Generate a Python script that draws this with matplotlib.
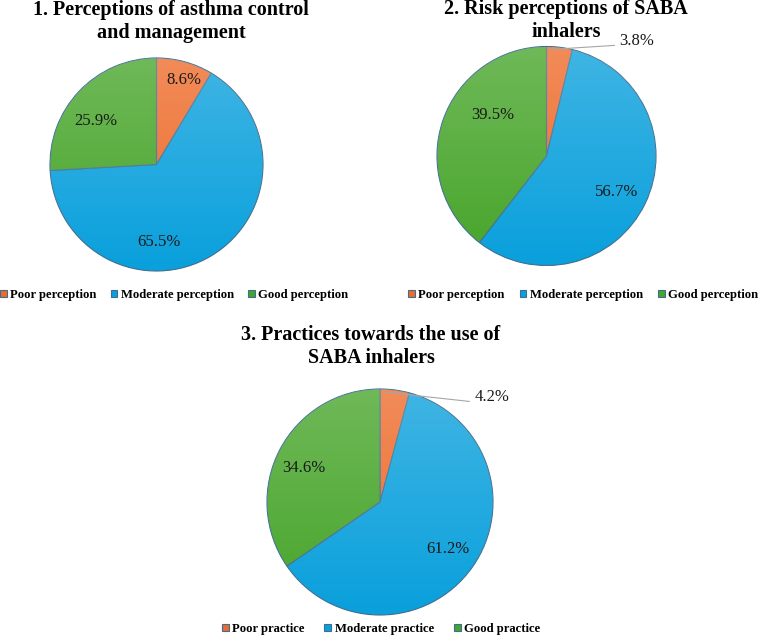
import numpy as np
import matplotlib
matplotlib.use("Agg")
from matplotlib import pyplot as plt
from matplotlib.patches import Circle

plt.rcParams['font.family'] = ['Liberation Serif', 'DejaVu Serif']

# data
titles = [["1. Perceptions of asthma control", "and management"],
          ["2. Risk perceptions of SABA", "inhalers"],
          ["3. Practices towards the use of", "SABA inhalers"]]
legend_labels = [["Poor perception", "Moderate perception", "Good perception"],
                 ["Poor perception", "Moderate perception", "Good perception"],
                 ["Poor practice", "Moderate practice", "Good practice"]]
values = [[8.6, 65.5, 25.9],
          [3.8, 56.7, 39.5],
          [4.2, 61.2, 34.6]]

colors = ['#EE6B2A', '#0AA0DC', '#47A52A']
edge = '#3E6E90'

W, H = 759, 640
fig = plt.figure(figsize=(W / 100, H / 100), dpi=100)

# layout in pixels: pie centre, radius, title centre, legend centre + spacing
layout = [
    dict(c=(156.5, 164.5), r=106.5, tx=171, ty=10, lx=174, ly=295, cs=1.1),
    dict(c=(546.5, 156), r=109.5, tx=566, ty=9, lx=583, ly=295, cs=1.2),
    dict(c=(380, 502), r=113, tx=371, ty=335, lx=381, ly=629, cs=1.6),
]
line_gap = 23
# label positions in units of the radius
label_pos = [
    [(0.26, 0.79), (0.02, -0.73), (-0.57, 0.41)],
    [(0.82, 1.05), (0.64, -0.33), (-0.49, 0.375)],
    [(0.99, 0.93), (0.60, -0.42), (-0.67, 0.30)],
]
leader = [False, True, True]

for i in range(3):
    L = layout[i]
    cx, cy = L['c']
    r = L['r']
    ax = fig.add_axes([(cx - r) / W, (H - cy - r) / H, 2 * r / W, 2 * r / H])
    wedges, _ = ax.pie(values[i], colors=colors, startangle=90, counterclock=False,
                       radius=1, wedgeprops=dict(edgecolor=edge, linewidth=0.8))
    ax.set_xlim(-1, 1)
    ax.set_ylim(-1, 1)
    ax.set_aspect('auto')
    ax.axis('off')

    # light gradient like the original
    grad = np.zeros((100, 2, 4))
    grad[..., :3] = 1.0
    grad[..., 3] = np.linspace(0.22, 0.0, 100)[:, None]
    im = ax.imshow(grad, extent=(-1, 1, -1, 1), origin='upper', aspect='auto', zorder=3)
    im.set_clip_path(Circle((0, 0), 1, transform=ax.transData))

    for j, w in enumerate(wedges):
        px, py = label_pos[i][j]
        ax.text(px, py, "%.1f%%" % values[i][j], ha='center', va='center',
                fontsize=12, color='#1a1a1a', zorder=5)
        if j == 0 and leader[i]:
            ang = np.deg2rad((w.theta1 + w.theta2) / 2)
            x0, y0 = np.cos(ang) * 0.98, np.sin(ang) * 0.98
            ax.plot([x0 - 0.08, px - 0.2], [y0, py - 0.04], color='#A6A6A6', lw=0.8,
                    zorder=4, clip_on=False)

    for k, line in enumerate(titles[i]):
        fig.text(L['tx'] / W, 1 - (L['ty'] + k * line_gap) / H, line, ha='center',
                 va='center', fontsize=14.5, fontweight='bold')

    fig.legend(wedges, legend_labels[i], loc='center',
               bbox_to_anchor=(L['lx'] / W, 1 - L['ly'] / H), ncol=3, frameon=False,
               prop=dict(family='Liberation Serif', weight='bold', size=9.1),
               handlelength=0.55, handleheight=0.55, handletextpad=0.25,
               columnspacing=L['cs'], borderpad=0)

fig.savefig("out.png", dpi=100, facecolor='white')
